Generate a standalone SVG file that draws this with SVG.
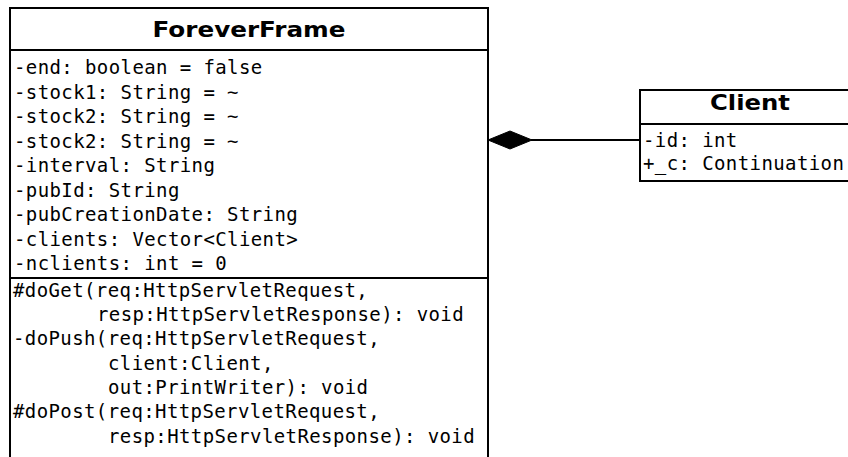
<svg xmlns="http://www.w3.org/2000/svg" width="848" height="457" viewBox="0 0 848 457">
<style>
.box{fill:#fff;stroke:#000;stroke-width:2}
.div{stroke:#000;stroke-width:2}
.title{font-family:"DejaVu Sans",Verdana,sans-serif;font-weight:bold;font-size:21px;fill:#000;text-anchor:middle}
.mono{font-family:"DejaVu Sans Mono","Liberation Mono",monospace;font-size:19px;letter-spacing:0.4px;fill:#000}
.conn{stroke:#000;stroke-width:2;fill:none}
</style>
<rect width="848" height="457" fill="#fff"/>
<g id="connectors">
<line class="conn" x1="531" y1="140" x2="640" y2="140"/>
<polygon points="488,140 510,131 532,140 510,149" fill="#000" stroke="#000" stroke-width="1"/>
</g>
<g id="ForeverFrame">
<rect class="box" x="10" y="8" width="478" height="470"/>
<line class="div" x1="10" y1="50" x2="488" y2="50"/>
<line class="div" x1="10" y1="278" x2="488" y2="278"/>
<text class="title" x="249" y="37" textLength="193" lengthAdjust="spacingAndGlyphs">ForeverFrame</text>
<g class="mono">
<text x="14" y="74">-end: boolean = false</text>
<text x="14" y="98.5">-stock1: String = ~</text>
<text x="14" y="123">-stock2: String = ~</text>
<text x="14" y="147.5">-stock2: String = ~</text>
<text x="14" y="172">-interval: String</text>
<text x="14" y="196.5">-pubId: String</text>
<text x="14" y="221">-pubCreationDate: String</text>
<text x="14" y="245.5">-clients: Vector&lt;Client&gt;</text>
<text x="14" y="270">-nclients: int = 0</text>
<text x="13" y="297">#doGet(req:HttpServletRequest,</text>
<text x="97" y="321">resp:HttpServletResponse): void</text>
<text x="13" y="345">-doPush(req:HttpServletRequest,</text>
<text x="108" y="370">client:Client,</text>
<text x="108" y="394">out:PrintWriter): void</text>
<text x="13" y="418">#doPost(req:HttpServletRequest,</text>
<text x="108" y="443">resp:HttpServletResponse): void</text>
</g>
</g>
<g id="Client">
<rect class="box" x="640" y="90" width="222" height="91"/>
<line class="div" x1="640" y1="124" x2="862" y2="124"/>
<text class="title" x="750" y="110" textLength="80" lengthAdjust="spacingAndGlyphs">Client</text>
<g class="mono">
<text x="643" y="147">-id: int</text>
<text x="643" y="170">+_c: Continuation</text>
</g>
</g>
</svg>
